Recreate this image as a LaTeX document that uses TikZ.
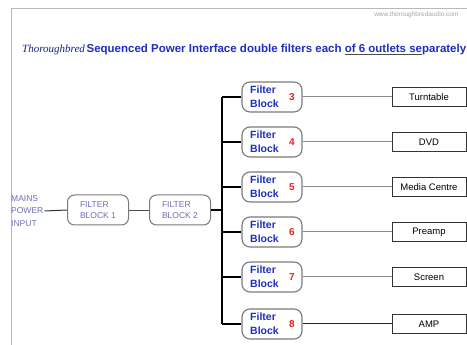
\documentclass[tikz,border=0pt]{standalone}
\usepackage{fontspec}
\setmainfont{Liberation Sans}
\newfontfamily\serifit{Liberation Serif}
\definecolor{fbblue}{HTML}{1E2FC0}
\definecolor{fbred}{HTML}{E82222}
\definecolor{lav}{HTML}{6E6EB4}
\definecolor{frame}{HTML}{B8B8B8}
\definecolor{edge}{HTML}{7A7A7A}
\begin{document}
\begin{tikzpicture}[x=1pt,y=-1pt,
  fbsmall/.style={draw=edge,line width=1pt,rounded corners=7pt,minimum width=61pt,minimum height=30pt,inner sep=0pt,align=left,text=lav,font=\fontsize{8.5}{11}\selectfont},
  fbbig/.style={draw=edge,line width=1.1pt,rounded corners=8pt,minimum width=60pt,minimum height=30pt,inner sep=0pt},
  outlet/.style={draw=black!80,line width=0.7pt,minimum width=74pt,minimum height=19pt,inner sep=0pt,font=\fontsize{9.5}{11}\selectfont},
  trunk/.style={draw=black,line width=1.2pt},
  glink/.style={draw=black!45,line width=1pt}]
\useasboundingbox (0,0) rectangle (467,345);
\fill[white] (0,0) rectangle (467,345);
\draw[frame,line width=0.8pt] (11,345) -- (11,8) -- (467,8);
\node[anchor=east,text=black!35,font=\fontsize{6.5}{8}\selectfont] (web) at (462,15) {www.thoroughbredaudio.com};
\node[anchor=west,inner sep=0pt] (title) at (22,50) {\textcolor{fbblue!70!black}{\serifit\itshape\fontsize{11}{12}\selectfont Thoroughbred}\,\textcolor{fbblue}{\bfseries\fontsize{11.5}{12}\selectfont Sequenced Power Interface double filters each \textcolor{black!70}{\underline{\textcolor{fbblue}{of 6 outlets se}}}parately}};
\node[align=left,text=lav,inner sep=0pt,anchor=west,font=\fontsize{8.5}{12.5}\selectfont] (mains) at (11,211) {MAINS\\POWER\\INPUT};
\node[fbsmall] (fb1) at (98,210) {FILTER\\BLOCK 1};
\node[fbsmall] (fb2) at (180,210) {FILTER\\BLOCK 2};
\coordinate (j) at (222,210);
\coordinate (ttop) at (222,97);
\coordinate (tbot) at (222,324);
\draw[black!80,line width=1pt] (mains.east) ++(1pt,0) -- (fb1.west);
\draw[black!70,line width=0.8pt] (fb1) -- (fb2);
\draw[trunk] (fb2.east) -- (j);
\draw[trunk] (ttop) -- (tbot);
\foreach \n/\y/\lab in {3/97/Turntable,4/142/DVD,5/187/Media Centre,6/232/Preamp,7/277/Screen,8/324/AMP}{
  \node[fbbig] (b\n) at (272,\y) {};
  \node[anchor=west,align=left,inner sep=0pt,text=fbblue,font=\bfseries\fontsize{10.5}{14}\selectfont] (bt\n) at (250,\y) {Filter\\Block};
  \node[anchor=center,inner sep=0pt,text=fbred,font=\bfseries\fontsize{10}{12}\selectfont] (bn\n) at (292,\y) {\n};
  \node[outlet] (o\n) at (429,\y) {\lab};
  \coordinate (s\n) at (222,\y);
  \draw[trunk] (s\n) -- (b\n.west);
}
\foreach \n in {3,4,5,6,7}{\draw[glink] (b\n.east) -- (o\n.west);}
\draw[black!85,line width=1pt] (b8.east) -- (o8.west);
\end{tikzpicture}
\end{document}
